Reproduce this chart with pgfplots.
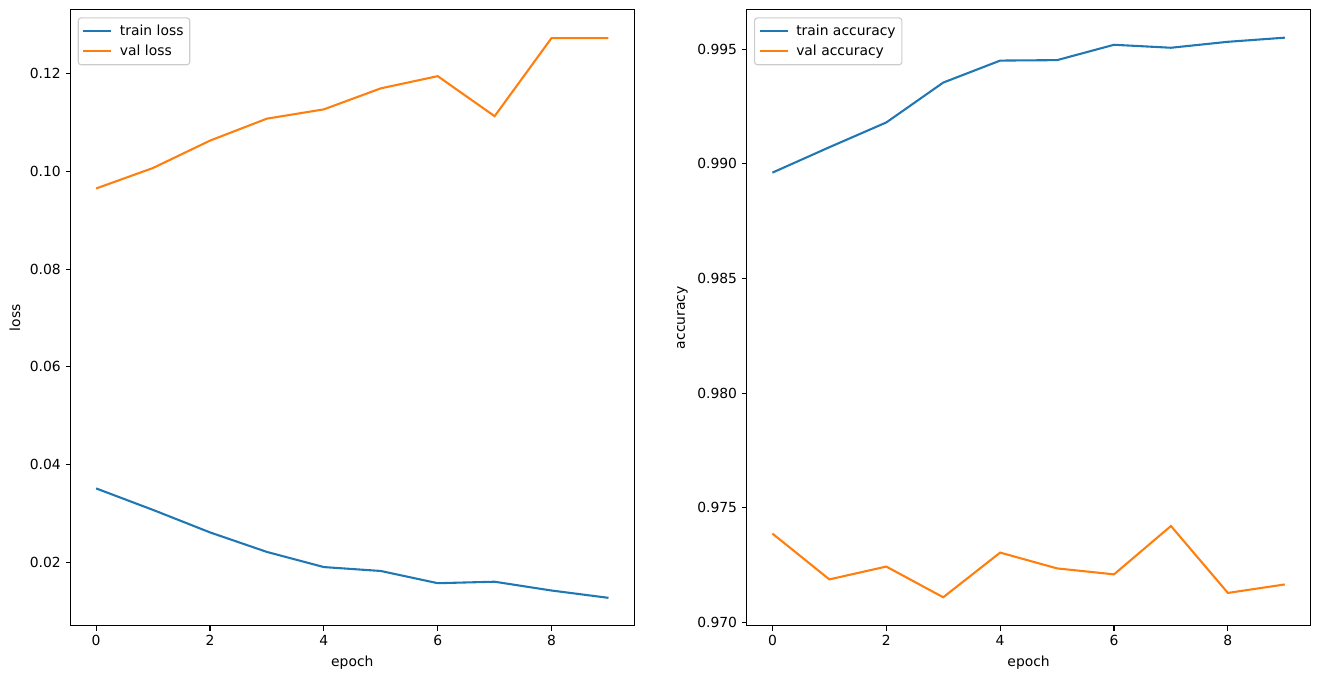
\documentclass[border=0pt]{standalone}
\usepackage{fontspec}
\setmainfont{DejaVu Sans}
\usepackage{pgfplots}
\pgfplotsset{compat=1.18}
\definecolor{tabblue}{HTML}{1F77B4}
\definecolor{taborange}{HTML}{FF7F0E}
\pgfplotsset{
  mpl/.style={
    scale only axis, width=405.8pt, height=443.5pt,
    anchor=south west,
    axis line style={line width=0.8pt},
    tick align=outside, major tick length=3.5pt,
    every tick/.style={line width=0.8pt, black},
    xtick pos=bottom, ytick pos=left,
    xtick={0,2,4,6,8},
    xmin=-0.45, xmax=9.45,
    /pgf/number format/assume math mode=true,
    tick label style={font=\fontsize{10}{12}\selectfont},
    label style={font=\fontsize{10}{12}\selectfont},
    xlabel={epoch},
    legend cell align=left,
    legend style={at={(0,1)}, anchor=north west, xshift=5.2pt, yshift=-5.5pt,
      draw=black!20, line width=0.8pt, rounded corners=2pt,
      font=\fontsize{10}{12}\selectfont,
      inner xsep=3pt, inner ysep=3.5pt, row sep=2.5pt,
      nodes={inner sep=1.5pt},
      /tikz/every odd column/.style={column sep=4pt}},
    legend image code/.code={\draw[##1] (0pt,0pt) -- (20pt,0pt);},
    every axis plot/.append style={line width=1.5pt, mark=none},
  }
}
\begin{document}
\begin{tikzpicture}
\useasboundingbox (0,0) rectangle (950.4pt,488.9pt);
\begin{axis}[mpl, at={(50.76pt,38.4pt)},
  ymin=0.0070, ymax=0.1331,
  ytick={0.02,0.04,0.06,0.08,0.10,0.12},
  yticklabel style={/pgf/number format/.cd, fixed, fixed zerofill, precision=2},
  ylabel={loss}]
\addplot[tabblue] coordinates {(0,0.0351) (1,0.0307) (2,0.0261) (3,0.0221) (4,0.0190) (5,0.0182) (6,0.0157) (7,0.0160) (8,0.0142) (9,0.0127)};
\addlegendentry{train loss}
\addplot[taborange] coordinates {(0,0.0965) (1,0.1007) (2,0.1063) (3,0.1108) (4,0.1127) (5,0.1170) (6,0.1195) (7,0.1113) (8,0.1273) (9,0.1273)};
\addlegendentry{val loss}
\end{axis}
\begin{axis}[mpl, at={(537.7pt,38.4pt)},
  ymin=0.96985, ymax=0.99673,
  ytick={0.970,0.975,0.980,0.985,0.990,0.995},
  yticklabel style={/pgf/number format/.cd, fixed, fixed zerofill, precision=3},
  ylabel={accuracy}]
\addplot[tabblue] coordinates {(0,0.98962) (1,0.99073) (2,0.99181) (3,0.99355) (4,0.99451) (5,0.99453) (6,0.99520) (7,0.99507) (8,0.99533) (9,0.99551)};
\addlegendentry{train accuracy}
\addplot[taborange] coordinates {(0,0.97387) (1,0.97187) (2,0.97243) (3,0.97109) (4,0.97304) (5,0.97235) (6,0.97209) (7,0.97420) (8,0.97128) (9,0.97165)};
\addlegendentry{val accuracy}
\end{axis}
\end{tikzpicture}
\end{document}
